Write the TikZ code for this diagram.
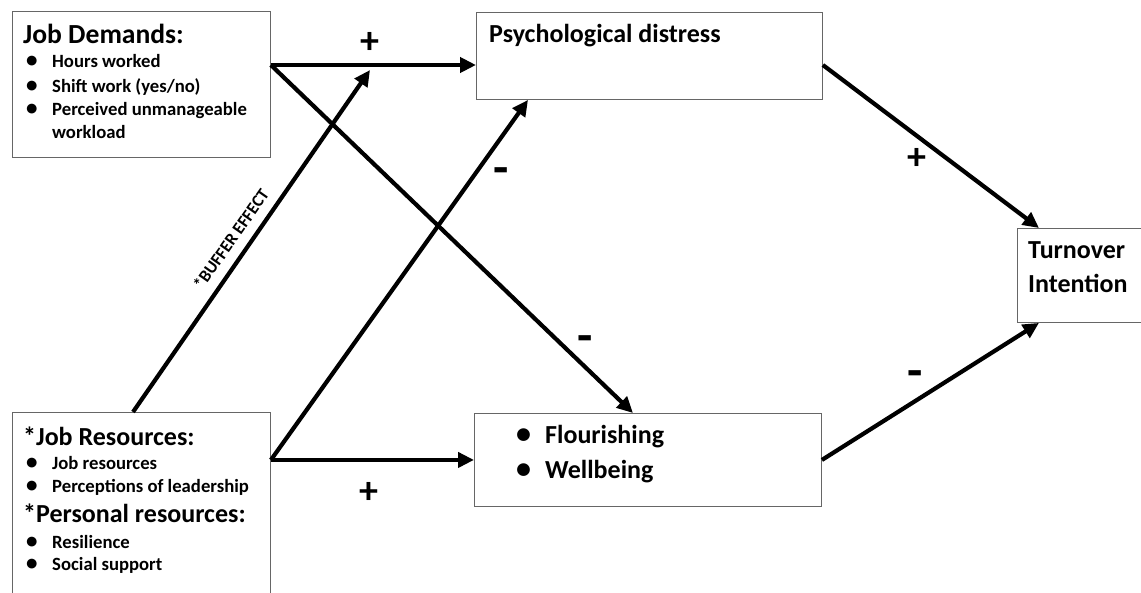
\documentclass[tikz,border=0pt]{standalone}
\usepackage{fontspec}
\setmainfont{Carlito}
\usetikzlibrary{calc, positioning}
\usetikzlibrary{arrows.meta}

\newcommand{\hdfont}{\fontsize{26}{30}\selectfont\bfseries}
\newcommand{\itmfont}{\fontsize{18.7}{22}\selectfont\bfseries}
\newcommand{\sgnfont}{\fontsize{38}{40}\selectfont\bfseries}
\newcommand{\bul}{\makebox[26pt][l]{\fontsize{23}{23}\selectfont\textbullet}}
\newcommand{\bigbul}{\makebox[29pt][l]{\fontsize{30}{30}\selectfont\textbullet}}

\begin{document}
\begin{tikzpicture}[x=1pt, y=-1pt,
  box/.style={draw=black!60, line width=0.9pt, anchor=north west, inner sep=0pt},
  hd/.style={anchor=base west, inner sep=0pt, font=\hdfont},
  itm/.style={anchor=base west, inner sep=0pt, font=\itmfont},
  sgn/.style={anchor=base, inner sep=0pt, font=\sgnfont},
  arr/.style={line width=4.2pt, -{Triangle[length=16pt, width=15pt]}}]
\useasboundingbox (0,0) rectangle (1141,592);

\node[box, minimum width=258pt, minimum height=146pt] (JD) at (12,11) {};
\node[box, minimum width=258pt, minimum height=200pt] (JR) at (12,412) {};
\node[box, minimum width=346pt, minimum height=87pt] (PD) at (476,12) {};
\node[box, minimum width=347pt, minimum height=93pt] (FL) at (474,413) {};
\node[box, minimum width=150pt, minimum height=94pt] (TI) at (1017,228) {};

\node[hd, font=\fontsize{27.6}{30}\selectfont\bfseries] (JDhd) at (23,43) {Job Demands:};
\node[itm] (JDa) at (26,67) {\bul Hours worked};
\node[itm] (JDb) at (26,92) {\bul Shift work (yes/no)};
\node[itm] (JDc) at (26,115) {\bul Perceived unmanageable};
\node[itm] (JDd) at (52,138) {workload};

\node[hd] (JRhd) at (23,445) {*Job Resources:};
\node[itm] (JRa) at (26,469) {\bul Job resources};
\node[itm] (JRb) at (26,492) {\bul Perceptions of leadership};
\node[hd] (PRhd) at (23,522) {*Personal resources:};
\node[itm] (PRa) at (26,548) {\bul Resilience};
\node[itm] (PRb) at (26,570) {\bul Social support};

\node[hd] (PDtx) at (489,42) {Psychological distress};
\node[hd] (FLa) at (516,443) {\bigbul Flourishing};
\node[hd] (FLb) at (516,478) {\bigbul Wellbeing};
\node[hd] (TIa) at (1028,258) {Turnover};
\node[hd] (TIb) at (1028,292) {Intention};

\coordinate (JDout) at ($(JD.north east)+(0,54)$);
\coordinate (JRout) at (JR.east |- FL.west);
\coordinate (BufEnd) at (370,70);

\draw[arr] (JDout) -- (JDout -| PD.west);
\draw[arr] (JDout) -- ($(FL.north west)+(159,0)$);
\draw[arr] ($(JR.north west)+(121,0)$) -- (BufEnd);
\draw[arr] (JRout) -- ($(PD.south west)+(52,0)$);
\draw[arr] (JRout) -- (FL.west);
\draw[arr] (PD.east |- JDout) -- ($(TI.north west)+(22,0)$);
\draw[arr] (FL.east) -- ($(TI.south west)+(22,0)$);

\node[rotate=55, inner sep=0pt, font=\fontsize{17.3}{19}\selectfont\bfseries] (BufLab) at (231,239) {*BUFFER EFFECT};

\node[sgn] (S1) at (370,53) {+};
\node[sgn] (S2) at (369,503) {+};
\node[sgn] (S3) at (917,169) {+};
\node[sgn, font=\fontsize{50}{50}\selectfont\bfseries] (S4) at (501,184) {-};
\node[sgn, font=\fontsize{50}{50}\selectfont\bfseries] (S5) at (585,352) {-};
\node[sgn, font=\fontsize{50}{50}\selectfont\bfseries] (S6) at (915,387) {-};
\end{tikzpicture}
\end{document}
